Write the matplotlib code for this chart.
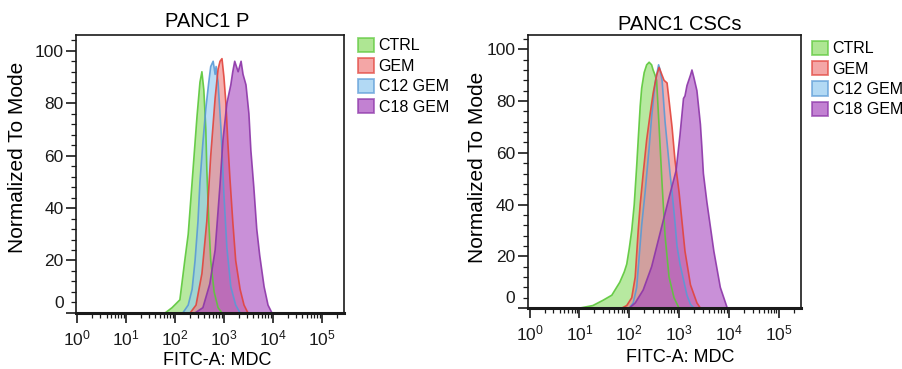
import numpy as np
import matplotlib.pyplot as plt
import matplotlib.transforms as mtransforms
from matplotlib.patches import Patch
from matplotlib.ticker import MultipleLocator, LogLocator, NullFormatter

plt.rcParams['font.family'] = ['Liberation Sans', 'DejaVu Sans']
plt.rcParams['mathtext.fontset'] = 'custom'
plt.rcParams['mathtext.rm'] = 'Liberation Sans'

# sample names and colours (fill, edge)
samples = ['CTRL', 'GEM', 'C12 GEM', 'C18 GEM']
fills = ['#8cdc66', '#f08080', '#92c9f0', '#a94cc0']
edges = ['#5cc83a', '#e2443c', '#5a9ad6', '#8c35a8']
titles = ['PANC1 P', 'PANC1 CSCs']
draw_order = [0, 2, 1, 3]  # blue goes under red, purple on top

# histograms: log10(FITC-A) vs % of mode
# PANC1 P
p_ctrl_log = [1.80, 1.94, 2.10, 2.20, 2.27, 2.33, 2.39, 2.45, 2.51, 2.55, 2.59, 2.63, 2.65, 2.69, 2.73, 2.80, 2.88, 2.96]
p_ctrl_y = [0, 2, 5, 20, 30, 45, 60, 75, 88, 92, 85, 70, 55, 35, 20, 8, 2, 0]
p_gem_log = [2.31, 2.43, 2.55, 2.65, 2.73, 2.82, 2.88, 2.92, 2.96, 3.00, 3.04, 3.08, 3.12, 3.18, 3.24, 3.33, 3.41, 3.49]
p_gem_y = [0, 3, 15, 35, 60, 82, 93, 96, 97, 90, 80, 65, 52, 35, 20, 9, 3, 0]
p_c12_log = [2.16, 2.27, 2.35, 2.41, 2.47, 2.51, 2.57, 2.63, 2.69, 2.73, 2.78, 2.82, 2.84, 2.88, 2.94, 3.00, 3.06, 3.14, 3.24, 3.33]
p_c12_y = [0, 3, 9, 20, 35, 50, 65, 78, 88, 94, 96, 91, 94, 88, 70, 45, 25, 10, 3, 0]
p_c18_log = [2.41, 2.57, 2.71, 2.82, 2.92, 2.98, 3.06, 3.14, 3.18, 3.22, 3.29, 3.35, 3.39, 3.45, 3.51, 3.55, 3.61, 3.67, 3.73, 3.82, 3.90, 3.98]
p_c18_y = [0, 2, 11, 24, 49, 66, 80, 87, 92, 96, 92, 96, 91, 87, 76, 62, 48, 32, 22, 10, 3, 0]

# PANC1 CSCs
c_ctrl_log = [1.00, 1.27, 1.47, 1.65, 1.81, 1.90, 1.95, 2.00, 2.05, 2.10, 2.15, 2.18, 2.22, 2.25, 2.30, 2.35, 2.40, 2.45, 2.48, 2.52, 2.55, 2.60, 2.66, 2.72, 2.80, 2.90, 3.00]
c_ctrl_y = [0, 1, 3, 5, 10, 14, 17, 23, 30, 40, 55, 65, 78, 85, 91, 94, 95, 94, 92, 90, 88, 70, 48, 28, 12, 4, 0]
c_gem_log = [1.85, 1.95, 2.05, 2.12, 2.18, 2.22, 2.28, 2.35, 2.42, 2.48, 2.55, 2.60, 2.64, 2.70, 2.76, 2.79, 2.86, 2.92, 3.00, 3.12, 3.23, 3.36, 3.43]
c_gem_y = [0, 1, 4, 12, 30, 40, 52, 65, 75, 83, 90, 93, 91, 88, 87, 82, 70, 57, 45, 22, 9, 2, 0]
c_c12_log = [2.00, 2.08, 2.15, 2.20, 2.25, 2.32, 2.40, 2.45, 2.52, 2.56, 2.59, 2.62, 2.66, 2.72, 2.76, 2.82, 2.86, 2.92, 2.96, 3.02, 3.09, 3.16, 3.23, 3.30]
c_c12_y = [0, 2, 8, 20, 32, 45, 62, 74, 87, 91, 94, 92, 88, 72, 64, 52, 45, 33, 24, 17, 11, 5, 1.5, 0]
c_c18_log = [2.00, 2.12, 2.28, 2.45, 2.62, 2.79, 2.94, 3.02, 3.09, 3.12, 3.16, 3.23, 3.26, 3.30, 3.36, 3.43, 3.46, 3.49, 3.56, 3.70, 3.83, 3.97]
c_c18_y = [0, 2, 7, 16, 29, 42, 53, 67, 81, 82, 86, 90, 92, 89, 84, 71, 62, 52, 41, 22, 8, 0]

panels = [
    [(p_ctrl_log, p_ctrl_y), (p_gem_log, p_gem_y), (p_c12_log, p_c12_y), (p_c18_log, p_c18_y)],
    [(c_ctrl_log, c_ctrl_y), (c_gem_log, c_gem_y), (c_c12_log, c_c12_y), (c_c18_log, c_c18_y)],
]

fig = plt.figure(figsize=(9.02, 3.69), dpi=100)
axes = [fig.add_axes([0.0843, 0.152, 0.297, 0.753]),
        fig.add_axes([0.585, 0.165, 0.303, 0.740])]

# per panel layout tweaks
xlims = [(10 ** -0.02, 10 ** 5.45), (10 ** -0.04, 10 ** 5.45)]
ylims = [(0, 106), (0, 105.5)]
title_pos = [(0.49, 1.029), (0.557, 1.018)]
ylab_pos = [(-0.183, 0.56), (-0.147, 0.515)]
xlab_pos = [(0.528, -0.14), (0.557, -0.148)]
leg_pos = [(1.052, 0.99), (1.04, 0.98)]

for ax, data, title, xl, yl, tp, yp, xp, lp in zip(axes, panels, titles, xlims, ylims,
                                                    title_pos, ylab_pos, xlab_pos, leg_pos):
    for i in draw_order:
        lg, y = data[i]
        x = 10 ** np.array(lg)
        ax.fill_between(x, 0, y, facecolor=fills[i], alpha=0.62, linewidth=0)
        ax.plot(x, y, color=edges[i], linewidth=1.2, alpha=0.9)

    ax.set_xscale('log')
    ax.set_xlim(*xl)
    ax.set_ylim(*yl)
    ax.set_yticks([0, 20, 40, 60, 80, 100])
    ax.yaxis.set_minor_locator(MultipleLocator(4))
    ax.xaxis.set_major_locator(LogLocator(base=10, numticks=10))
    ax.xaxis.set_minor_locator(LogLocator(base=10, subs=np.arange(2, 10), numticks=20))
    ax.xaxis.set_minor_formatter(NullFormatter())

    ax.tick_params(which='major', direction='out', length=7, width=1.2, labelsize=12.5, colors='#1a1a1a')
    ax.tick_params(which='minor', direction='out', length=3.5, width=0.9, colors='#1a1a1a')
    ax.tick_params(axis='y', which='major', pad=2)
    ax.tick_params(axis='x', which='major', pad=4)

    for s in ax.spines.values():
        s.set_linewidth(1.2)
        s.set_color('#1a1a1a')
    ax.spines['bottom'].set_linewidth(2.2)

    # FlowJo draws the "0" label a bit above its tick
    t0 = ax.yaxis.get_major_ticks()[0].label1
    t0.set_transform(t0.get_transform() + mtransforms.ScaledTranslation(0, 8 / 72, fig.dpi_scale_trans))

    ax.text(tp[0], tp[1], title, transform=ax.transAxes, ha='center', va='baseline', fontsize=14.5)
    ax.set_ylabel('Normalized To Mode', fontsize=15)
    ax.yaxis.set_label_coords(*yp)
    ax.set_xlabel('FITC-A: MDC', fontsize=13)
    ax.xaxis.set_label_coords(*xp)

    handles = [Patch(facecolor=fc, edgecolor=ec, alpha=0.7, linewidth=1.3) for fc, ec in zip(fills, edges)]
    ax.legend(handles, samples, loc='upper left', bbox_to_anchor=lp, frameon=False,
              fontsize=11.5, borderpad=0, borderaxespad=0, handlelength=1.0, handleheight=1.0,
              handletextpad=0.3, labelspacing=0.3)

fig.savefig('out.png', dpi=100)
